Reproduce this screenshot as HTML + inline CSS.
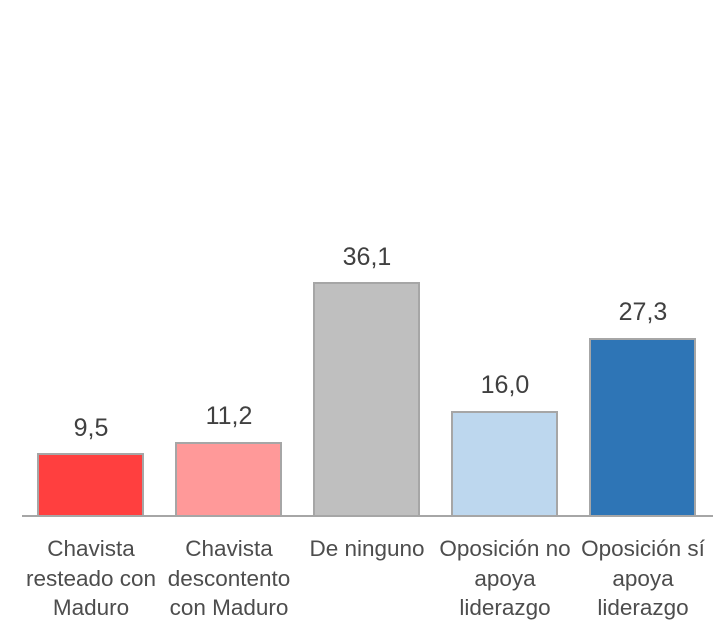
<!DOCTYPE html>
<html><head><style>
body{margin:0;width:728px;height:627px;background:#fff;position:relative;overflow:hidden;font-family:"Liberation Sans",Arial,sans-serif}
.b{position:absolute;box-sizing:border-box;border:2.5px solid #a6a6a6;border-bottom:none;width:107px}
.v{position:absolute;width:140px;text-align:center;font-size:25px;color:#404040}
.c{position:absolute;width:150px;text-align:center;font-size:22.5px;line-height:29.5px;color:#4d4d4d;top:534px}
</style></head><body>
<div style="position:absolute;left:22px;top:515px;width:691px;height:2px;background:#a6a6a6"></div>
<div class="b" style="left:37px;top:453px;height:62px;background:#ff3f3f"></div>
<div class="b" style="left:175px;top:442px;height:73px;background:#ff9999"></div>
<div class="b" style="left:313px;top:282px;height:233px;background:#bfbfbf"></div>
<div class="b" style="left:451px;top:411px;height:104px;background:#bdd7ee"></div>
<div class="b" style="left:589px;top:338px;height:177px;background:#2e75b6"></div>
<div class="v" style="left:21px;top:414px">9,5</div>
<div class="v" style="left:159px;top:402px">11,2</div>
<div class="v" style="left:297px;top:243px">36,1</div>
<div class="v" style="left:435px;top:371px">16,0</div>
<div class="v" style="left:573px;top:298px">27,3</div>
<div class="c" style="left:16px">Chavista<br>resteado con<br>Maduro</div>
<div class="c" style="left:154px">Chavista<br>descontento<br>con Maduro</div>
<div class="c" style="left:292px">De ninguno</div>
<div class="c" style="left:430px">Oposición no<br>apoya<br>liderazgo</div>
<div class="c" style="left:568px">Oposición sí<br>apoya<br>liderazgo</div>
</body></html>
